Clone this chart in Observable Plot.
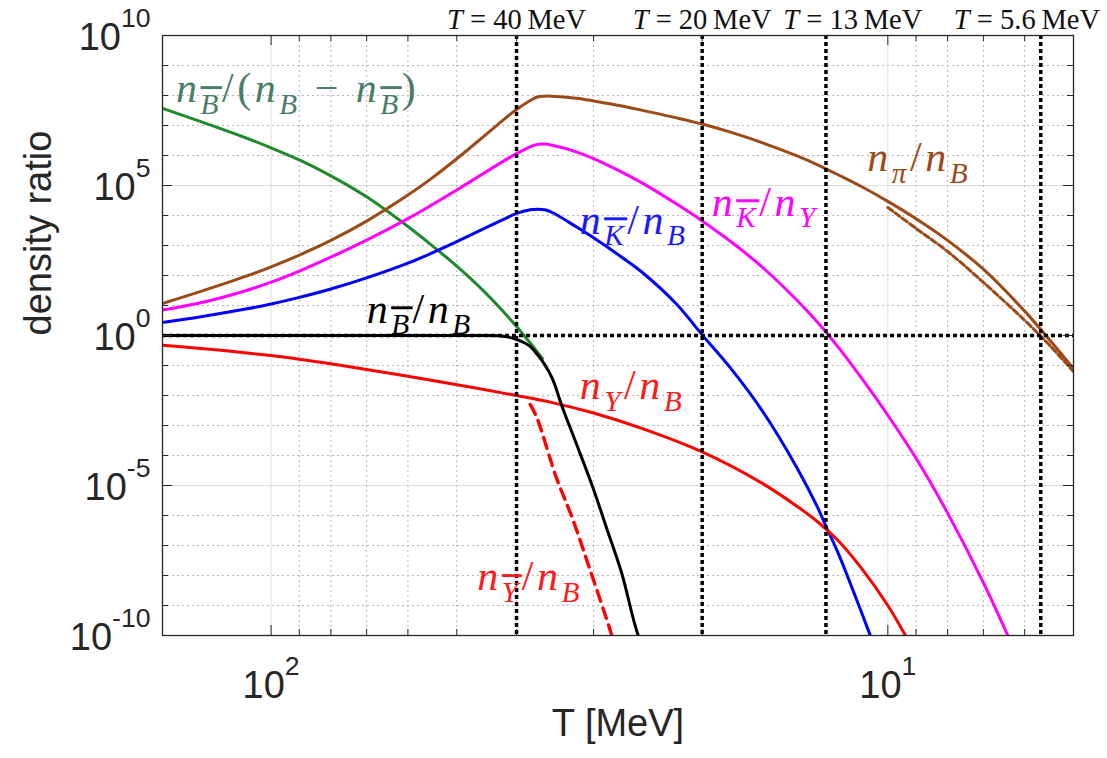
<!DOCTYPE html>
<html><head><meta charset="utf-8">
<script src="https://cdn.jsdelivr.net/npm/d3@7"></script>
<script src="https://cdn.jsdelivr.net/npm/@observablehq/plot@0.6"></script>
<style>body{margin:0;background:#fff;}</style>
</head><body><div id="chart"></div>
<script>
// ---- data (T in MeV, density ratios) ----
const T_pion = [150,130,110,100,90,80,70,60,55,50,45,42,40,38,37,36,35,32,30,27,25,22,20,18,16,14,13,12,11,10,9,8,7,6,5.5,5];
const pionRatio = [11.7,29.5,93,195,479,1.48e3,6.5e3,4.8e4,1.7e5,7.8e5,4.7e6,1.55e7,3.4e7,6.8e7,8.9e7,9.5e7,9.5e7,8.1e7,6.6e7,4.5e7,3.2e7,1.8e7,1.12e7,6.0e6,2.7e6,9.5e5,4.9e5,2.2e5,8.9e4,2.95e4,7.8e3,1.48e3,162,6.5,0.83,0.079];
const T_pionAlt = [10,9,8,7,6,5.5,5];
const pionAltRatio = [1.85e4,3.7e3,630,59,3.2,0.54,0.063];
const T_kaonHyp = [150,130,110,100,90,80,70,60,55,50,45,42,40,38,37,36,35,32,30,27,25,22,20,18,16,14,13,12,11,10,9,8,7,6.41,6.22];
const kaonHypRatio = [7.1,12.3,31,60,141,407,1.51e3,7.9e3,2.2e4,7.1e4,2.7e5,6.5e5,1.15e6,1.95e6,2.35e6,2.4e6,2.2e6,1.32e6,7.9e5,2.8e5,1.2e5,2.4e4,6.6e3,1.38e3,195,14.1,2.75,0.38,0.035,2.2e-3,8.1e-5,1.2e-6,5.8e-9,1.15e-10,2.9e-11];
const T_kaon = [150,130,110,100,90,80,70,60,55,50,45,42,40,38,37,36,35,32,30,27,25,22,20,18,16,14,13,12.6,12,11,10.5];
const kaonRatio = [2.7,4.2,7.6,11.2,18.6,35.5,83,257,550,1.35e3,3.8e3,7.4e3,1.17e4,1.55e4,1.62e4,1.55e4,1.26e4,4.2e3,1.8e3,407,126,11,1.05,0.083,3.2e-3,3.5e-5,1.86e-6,4.4e-7,4.8e-8,5.0e-10,4.0e-11];
const T_antiB = [150,130,110,100,90,80,70,60,55,50,45,42,40,38,37,36.3];
const antiBNetRatio = [3.7e7,1.35e7,3.9e6,1.8e6,7.1e5,2.1e5,4.2e4,4.3e3,1.05e3,204,27.5,6.2,2.0,0.56,0.28,0.17];
const T_antiBB = [150,100,62,46,42,40,38,37,36,35,33.7,32,30,28.6,27,25.3,24.8];
const antiBRatio = [1,1,1,1,0.95,0.74,0.43,0.23,0.107,0.037,4.0e-3,2.5e-4,7.4e-6,4.0e-7,1.17e-8,8.5e-11,5e-11];
const T_hyp = [150,130,118.3,100,90,80,70,60,50,42,40,35,30,25,20,16,14,13,12.6,12,11,10,9.38,9.13];
const hypRatio = [0.47,0.37,0.31,0.214,0.162,0.115,0.074,0.044,0.023,0.012,0.010,5.8e-3,2.6e-3,7.9e-4,1.32e-4,1.2e-5,1.95e-6,6.2e-7,3.5e-7,1.35e-7,1.6e-8,1.0e-9,1.07e-10,4.0e-11];
const T_antiHyp = [38,37.1,34.5,32.5,30.5,28.3,27.7];
const antiHypRatio = [5.0e-3,1.9e-3,1.9e-5,8.5e-7,1.9e-8,1.9e-10,4.7e-11];

const markerT = [40,20,12.6,5.65];
const markerLabelT = [40,20,11.4,5.95];
const markerLabels = ["T = 40|\u2009MeV|","T = 20|\u2009MeV|","T = 13|\u2009MeV|","T = 5.6|\u2009MeV|"];

const curveLabelText = ["n_{~B}/(n_B \u2212 n_{~B})","n_{~B}/n_B","n_{~K}/n_B","n_{~K}/n_Y","n_\u03c0/n_B","n_Y/n_B","n_{~Y}/n_B"];
const curveLabelT = [142.6,70,31.6,19.3,10.8,31.6,46.3];
const curveLabelV = [5.9e7,2.7,2.5e3,1.0e4,3.0e5,7.4e-3,3.2e-9];
const curveLabelColor = ["#4a7d66","#000000","#1a1aff","#ff00ff","#9c4a17","#ff1a1a","#ff1a1a"];

const xMajorTicks = [10,100];
const xMinorTicks = [5,6,7,8,9,20,30,40,50,60,70,80,90];
const xTickLabels = ["10^1","10^2"];
const yMajorTicks = [1e-10,1e-5,1,1e5,1e10];
const yMinorTicks = [1e-9,1e-8,1e-7,1e-6,1e-4,1e-3,1e-2,1e-1,1e1,1e2,1e3,1e4,1e6,1e7,1e8,1e9];
const yTickLabels = ["10^{-10}","10^{-5}","10^0","10^5","10^{10}"];

// ---- build tables ----
const zip = (T, V) => T.map((t, i) => ({T: t, v: V[i]}));
const W = 1107, H = 758;
const M = {top: 35, right: 34, bottom: 123, left: 162};
const innerW = W - M.left - M.right, innerH = H - M.top - M.bottom;
const tickC = "#262626";
const line = (T, V, stroke, extra = {}) =>
  Plot.line(zip(T, V), {x: "T", y: "v", stroke, strokeWidth: 3, curve: "catmull-rom", clip: true, ...extra});

const chart = Plot.plot({
  width: W, height: H,
  marginTop: M.top, marginRight: M.right, marginBottom: M.bottom, marginLeft: M.left,
  x: {type: "log", domain: [150, 5], axis: null},
  y: {type: "log", domain: [1e-10, 1e10], axis: null},
  style: {fontFamily: "'Liberation Sans', Arial, sans-serif", background: "white", overflow: "visible"},
  marks: [
    Plot.ruleY(yMajorTicks, {stroke: "#dedede", strokeWidth: 1}),
    Plot.ruleY(yMinorTicks, {stroke: "#b5b5b5", strokeWidth: 1, strokeDasharray: "2,3"}),
    Plot.ruleX(xMajorTicks, {stroke: "#dedede", strokeWidth: 1}),
    Plot.ruleX(xMinorTicks, {stroke: "#b5b5b5", strokeWidth: 1, strokeDasharray: "2,3"}),
    line(T_antiB, antiBNetRatio, "#1e8a2a"),
    line(T_pion, pionRatio, "#9c4a17"),
    line(T_pionAlt, pionAltRatio, "#9c4a17", {strokeDasharray: "6,3"}),
    line(T_kaonHyp, kaonHypRatio, "#ff00ff"),
    line(T_kaon, kaonRatio, "#0000ff"),
    line(T_hyp, hypRatio, "#ff0000"),
    line(T_antiHyp, antiHypRatio, "#ff0000", {strokeDasharray: "11,7", strokeWidth: 3.4}),
    line(T_antiBB, antiBRatio, "#000000"),
    Plot.ruleY([1], {stroke: "black", strokeWidth: 3.5, strokeDasharray: "4,3"}),
    Plot.ruleX(markerT, {stroke: "black", strokeWidth: 3.5, strokeDasharray: "4,3"}),
    // inward ticks on all four sides
    Plot.ruleX(xMajorTicks, {stroke: tickC, insetTop: innerH - 10}),
    Plot.ruleX(xMajorTicks, {stroke: tickC, insetBottom: innerH - 10}),
    Plot.ruleX(xMinorTicks, {stroke: tickC, insetTop: innerH - 6}),
    Plot.ruleX(xMinorTicks, {stroke: tickC, insetBottom: innerH - 6}),
    Plot.ruleY(yMajorTicks, {stroke: tickC, insetRight: innerW - 10}),
    Plot.ruleY(yMajorTicks, {stroke: tickC, insetLeft: innerW - 10}),
    Plot.ruleY(yMinorTicks, {stroke: tickC, insetRight: innerW - 6}),
    Plot.ruleY(yMinorTicks, {stroke: tickC, insetLeft: innerW - 6}),
    Plot.frame({stroke: tickC, strokeWidth: 1.3}),
    // tick labels and axis titles
    Plot.text(yMajorTicks, {y: d => d, text: (d, i) => yTickLabels[i], frameAnchor: "left", textAnchor: "end", lineAnchor: "bottom", dx: -12, dy: 14, fontSize: 38, fill: tickC}),
    Plot.text(xMajorTicks, {x: d => d, text: (d, i) => xTickLabels[i], frameAnchor: "bottom", lineAnchor: "bottom", dy: 62, fontSize: 38, fill: tickC}),
    Plot.text(["density ratio"], {text: d => d, frameAnchor: "left", rotate: -90, dx: -124, lineAnchor: "middle", fontSize: 38, fill: tickC}),
    Plot.text(["T [MeV]"], {text: d => d, frameAnchor: "bottom", lineAnchor: "bottom", dy: 100, fontSize: 38, fill: tickC}),
    Plot.text(markerLabels, {x: (d, i) => markerLabelT[i], text: d => d, frameAnchor: "top", lineAnchor: "bottom", dy: -7, fontSize: 28.5, fontFamily: "'Liberation Serif', serif", fill: "#111"}),
    Plot.text(curveLabelText, {x: (d, i) => curveLabelT[i], y: (d, i) => curveLabelV[i], text: d => d, fill: (d, i) => curveLabelColor[i], textAnchor: "start", lineAnchor: "bottom", fontSize: 42, fontFamily: "'Liberation Serif', serif"})
  ]
});
document.getElementById("chart").appendChild(chart);

// ---- mini TeX-like rich text: _ sub, ^ sup, ~ overline, |...| roman ----
function richify(el) {
  const src = el.textContent;
  if (!/[_^~|]/.test(src)) return;
  const cs = getComputedStyle(el);
  const fs = parseFloat(cs.fontSize);
  const serif = /Serif/i.test(cs.fontFamily);
  const items = [];
  let roman = false, i = 0;
  const pushStr = (s, level) => {
    let bar = false;
    for (const ch of s) {
      if (ch === "~") { bar = true; continue; }
      items.push({ch, level, bar, roman}); bar = false;
    }
  };
  while (i < src.length) {
    const c = src[i];
    if (c === "|") { roman = !roman; i++; continue; }
    if (c === "_" || c === "^") {
      const level = c === "_" ? -1 : 1; i++;
      let g;
      if (src[i] === "{") { const j = src.indexOf("}", i); g = src.slice(i + 1, j); i = j + 1; }
      else if (src[i] === "~") { g = src.slice(i, i + 2); i += 2; }
      else { g = src[i]; i++; }
      pushStr(g, level); continue;
    }
    if (c === "~") { items.push({ch: src[i + 1], level: 0, bar: true, roman}); i += 2; continue; }
    items.push({ch: c, level: 0, bar: false, roman}); i++;
  }
  while (el.firstChild) el.removeChild(el.firstChild);
  el.setAttribute("style", "white-space:pre" + (serif && /_/.test(src) ? ";letter-spacing:3.5px" : ""));
  let cur = 0;
  for (const it of items) {
    const t = document.createElementNS("http://www.w3.org/2000/svg", "tspan");
    t.textContent = it.ch;
    const target = it.level === -1 ? fs * 0.28 : it.level === 1 ? -fs * 0.6 : 0;
    if (target !== cur) { t.setAttribute("dy", target - cur); cur = target; }
    if (it.level) t.setAttribute("font-size", fs * 0.7);
    if (serif && !it.roman && /[A-Za-z\u03c0]/.test(it.ch)) t.setAttribute("font-style", "italic");
    if (it.bar) t.setAttribute("text-decoration", "overline");
    el.appendChild(t);
  }
}
chart.querySelectorAll("text").forEach(richify);
</script></body></html>
